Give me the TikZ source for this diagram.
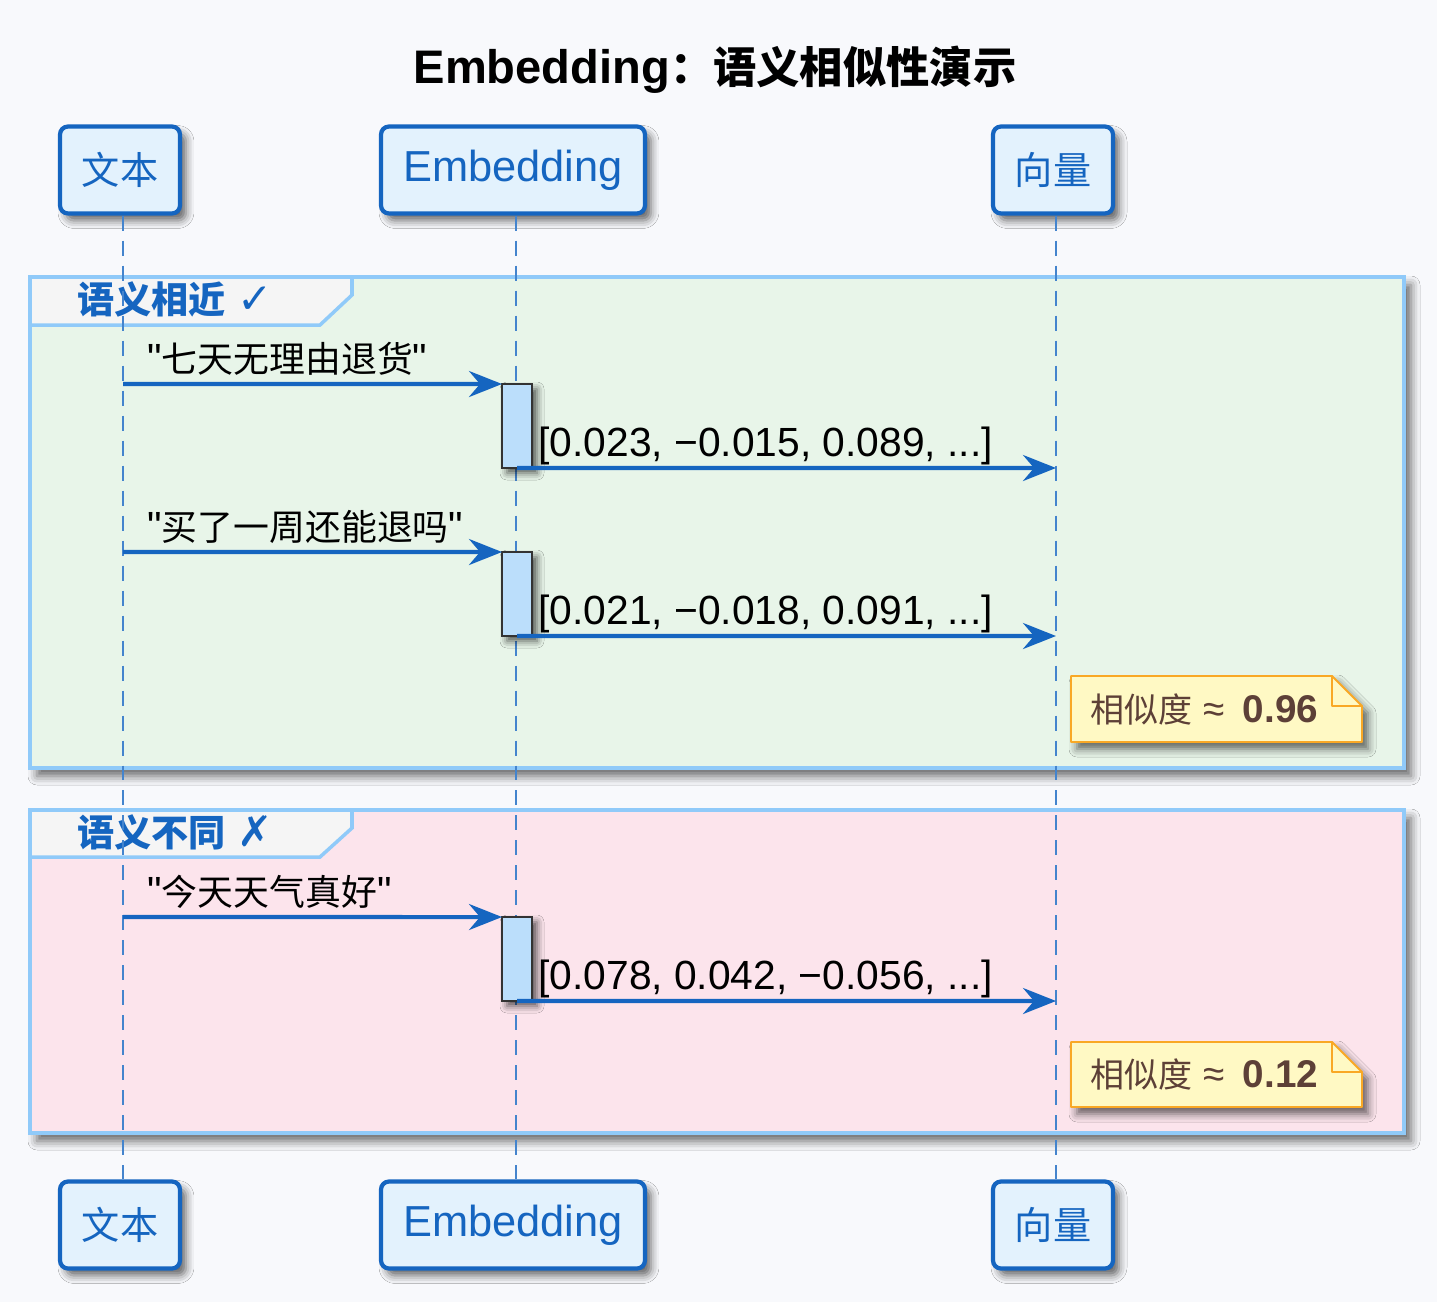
\documentclass[tikz,border=0pt]{standalone}
\usepackage{fontspec}
\setmainfont{Liberation Sans}[Ligatures=TeXOff]
\newfontfamily\cjk[Scale=0.88]{Noto Sans CJK SC}
\newfontfamily\sym{DejaVu Sans}
\usetikzlibrary{arrows.meta,shadows.blur}

\definecolor{lineblue}{HTML}{1565C0}
\definecolor{boxfill}{HTML}{E3F2FD}
\definecolor{grpline}{HTML}{90CAF9}
\definecolor{grpgreen}{HTML}{E8F5E9}
\definecolor{grppink}{HTML}{FCE4EC}
\definecolor{tabfill}{HTML}{F5F5F5}
\definecolor{actfill}{HTML}{BBDEFB}
\definecolor{notefill}{HTML}{FFF9C4}
\definecolor{noteline}{HTML}{F9A825}
\definecolor{notetext}{HTML}{5D4037}
\definecolor{bgcol}{HTML}{F8F9FC}

\tikzset{
  actor/.style={draw=lineblue, line width=2.4pt, fill=boxfill, rounded corners=0.16cm,
    minimum height=1.74cm, text=lineblue, font=\fontsize{24.7}{30}\selectfont,
    blur shadow={shadow xshift=0.12cm, shadow yshift=-0.14cm, shadow blur radius=0.16cm, shadow opacity=60}},
  lifeline/.style={draw=lineblue!80, line width=0.8pt, dash pattern=on 0.3cm off 0.2cm},
  grp/.style={draw=grpline, line width=2.3pt,
    blur shadow={shadow xshift=0.14cm, shadow yshift=-0.16cm, shadow blur radius=0.18cm, shadow opacity=60}},
  tab/.style={draw=grpline, line width=2pt, fill=tabfill},
  grplabel/.style={anchor=base west, inner sep=0pt, text=lineblue, font=\fontsize{24}{29}\selectfont\bfseries},
  activ/.style={draw=black!80, line width=1.5pt, fill=actfill, outer sep=0pt,
    minimum width=0.6cm, minimum height=1.68cm,
    blur shadow={shadow xshift=0.1cm, shadow yshift=-0.1cm, shadow blur radius=0.14cm, shadow opacity=65}},
  msg/.style={draw=lineblue, line width=2.3pt, -{Stealth[length=0.66cm, width=0.52cm, inset=0.22cm]}},
  msglabel/.style={anchor=base west, inner sep=0pt, font=\fontsize{23.2}{28}\selectfont},
  note/.style={draw=noteline, line width=1.1pt, fill=notefill, line join=round},
  notelabel/.style={anchor=base west, inner sep=0pt, text=notetext, font=\fontsize{22}{26}\selectfont}
}

\begin{document}
\begin{tikzpicture}[x=0.02cm, y=-0.02cm]

\useasboundingbox (0,0) rectangle (1437,1302);
\fill[bgcol] (0,0) rectangle (1437,1302);

    \node[font=\fontsize{26.8}{32}\selectfont\bfseries] (title) at (715,70)
        {Embedding{\cjk\fontsize{28}{34}\selectfont ：语义相似性演示}};

% groups
\draw[grp, fill=grpgreen] (30,277) rectangle (1404,768); % similar
\draw[tab] (30,277) -- (352,277) -- (352,295) -- (320,325) -- (30,325) -- cycle;
    \node[grplabel] (grpA) at (77,313) {{\cjk 语义相近} {\mdseries\sym ✓}};

\draw[grp, fill=grppink] (30,810) rectangle (1404,1133); % different
\draw[tab] (30,810) -- (352,810) -- (352,828) -- (320,857) -- (30,857) -- cycle;
    \node[grplabel] (grpB) at (77,846) {{\cjk 语义不同} {\mdseries\sym ✗}};

% participants
    \node[actor, minimum width=2.4cm]  (txtT) at (120,170)  {{\cjk 文本}};
    \node[actor, minimum width=5.28cm] (embT) at (513,170)  {Embedding};
    \node[actor, minimum width=2.4cm]  (vecT) at (1053,170) {{\cjk 向量}};
    \node[actor, minimum width=2.4cm]  (txtB) at (120,1225)  {{\cjk 文本}};
    \node[actor, minimum width=5.28cm] (embB) at (513,1225)  {Embedding};
    \node[actor, minimum width=2.4cm]  (vecB) at (1053,1225) {{\cjk 向量}};

    \draw[lifeline] ([xshift=0.06cm]txtT.south) -- ([xshift=0.06cm]txtB.north);
    \draw[lifeline] ([xshift=0.06cm]embT.south) -- ([xshift=0.06cm]embB.north);
    \draw[lifeline] ([xshift=0.06cm]vecT.south) -- ([xshift=0.06cm]vecB.north);

% first text
    \coordinate (m1) at (123,384);
    \coordinate (v1) at (1056,468);
    \node[activ] (act1) at (517,426) {};
    \draw[msg] (m1) -- (act1.north west);
    \draw[msg] (act1.south) -- (v1);
    \node[msglabel] (q1) at (147,372) {"{\cjk 七天无理由退货}"};
    \node[msglabel] (r1) at (538,456) {[0.023, −0.015, 0.089, ...]};

% second text
    \coordinate (m2) at (123,552);
    \coordinate (v2) at (1056,636);
    \node[activ] (act2) at (517,594) {};
    \draw[msg] (m2) -- (act2.north west);
    \draw[msg] (act2.south) -- (v2);
    \node[msglabel] (q2) at (147,540) {"{\cjk 买了一周还能退吗}"};
    \node[msglabel] (r2) at (538,624) {[0.021, −0.018, 0.091, ...]};

\draw[note, blur shadow={shadow xshift=0.12cm, shadow yshift=-0.14cm, shadow blur radius=0.16cm, shadow opacity=60}]
    (1071,676) -- (1332,676) -- (1362,706) -- (1362,742) -- (1071,742) -- cycle;
\draw[note, fill=none] (1332,676) -- (1332,706) -- (1362,706);
    \node[notelabel] (simA) at (1090,722) {{\cjk 相似度} ≈\hspace{0.2em} \textbf{0.96}};

% third text
    \coordinate (m3) at (123,917);
    \coordinate (v3) at (1056,1001);
    \node[activ] (act3) at (517,959) {};
    \draw[msg] (m3) -- (act3.north west);
    \draw[msg] (act3.south) -- (v3);
    \node[msglabel] (q3) at (147,905) {"{\cjk 今天天气真好}"};
    \node[msglabel] (r3) at (538,989) {[0.078, 0.042, −0.056, ...]};

\draw[note, blur shadow={shadow xshift=0.12cm, shadow yshift=-0.14cm, shadow blur radius=0.16cm, shadow opacity=60}]
    (1071,1042) -- (1332,1042) -- (1362,1072) -- (1362,1107) -- (1071,1107) -- cycle;
\draw[note, fill=none] (1332,1042) -- (1332,1072) -- (1362,1072);
    \node[notelabel] (simB) at (1090,1087) {{\cjk 相似度} ≈\hspace{0.2em} \textbf{0.12}};

\end{tikzpicture}
\end{document}
